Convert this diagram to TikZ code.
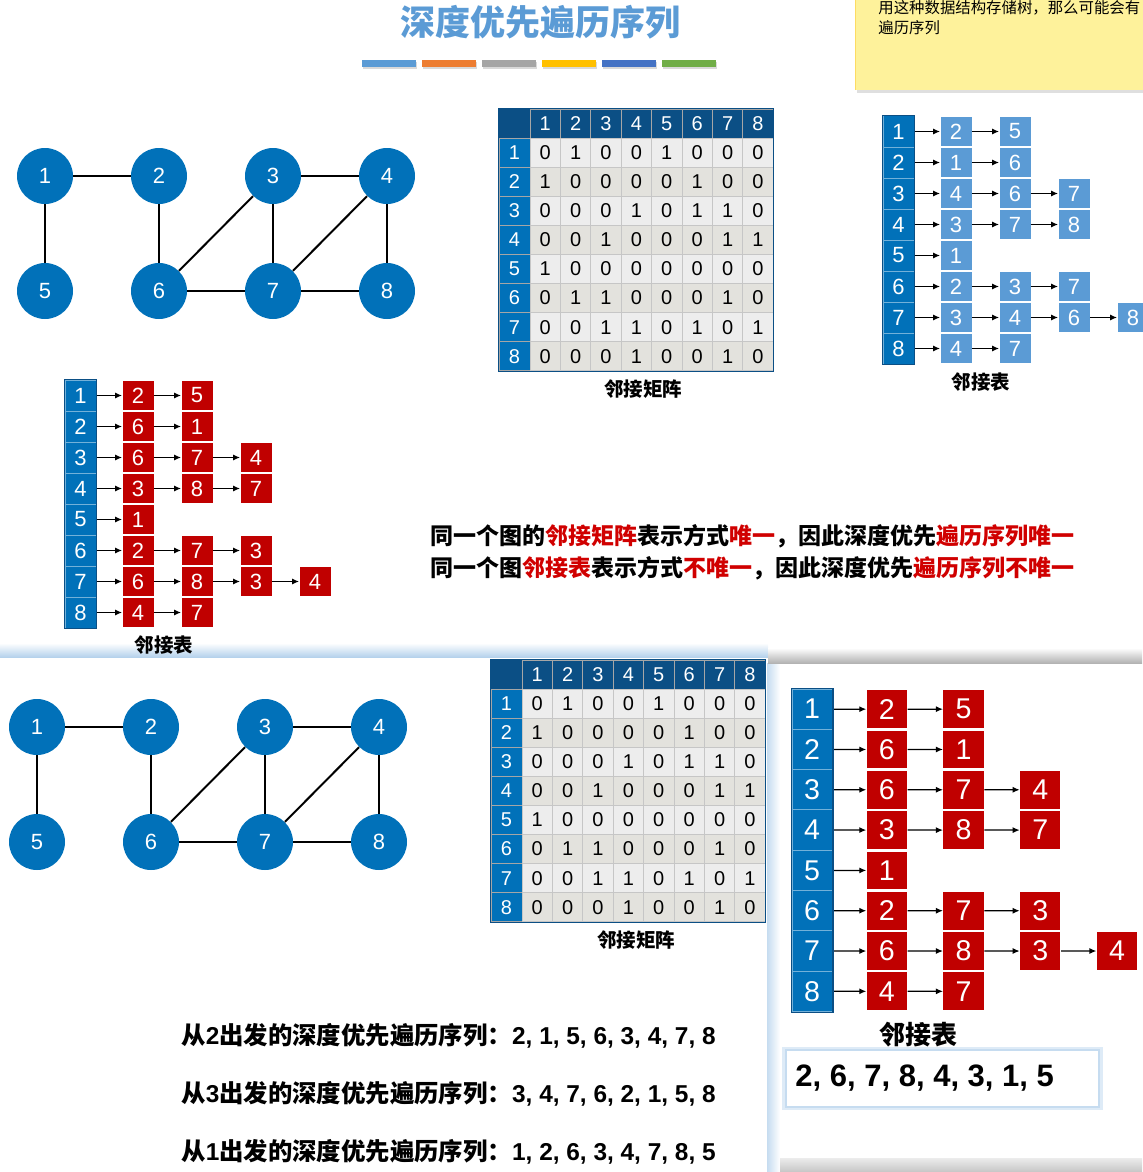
\documentclass[tikz,border=0pt]{standalone}
\usepackage{fontspec}
\setmainfont{Liberation Sans}
\newfontfamily\cjk{Noto Sans CJK SC}
\usetikzlibrary{arrows.meta}

\definecolor{vblue}{HTML}{0171B9}
\definecolor{hblue}{HTML}{0B4F85}
\definecolor{lblue}{HTML}{5B9BD5}
\definecolor{boxred}{HTML}{C00000}
\definecolor{txtred}{HTML}{D00000}
\definecolor{cellA}{HTML}{EDEDED}
\definecolor{cellB}{HTML}{E3E2DD}
\definecolor{notey}{HTML}{FEF29B}
\definecolor{barA}{HTML}{5B9BD5}
\definecolor{barB}{HTML}{ED7D31}
\definecolor{barC}{HTML}{A5A5A5}
\definecolor{barD}{HTML}{FFC000}
\definecolor{barE}{HTML}{4472C4}
\definecolor{barF}{HTML}{70AD47}

\newcommand\hlred[1]{\textcolor{txtred}{#1}}
\newcommand\fs[1]{\fontsize{#1}{#1}\selectfont}
\newcommand\zh[1]{{\cjk #1}}

% adjacency matrix, #1 = name prefix
\newcommand\adjmat[1]{%
  \node[corner] (#1-0-0) at (15.5,14.5) {};
  \foreach \c in {1,...,8}
    \node[colhead] (#1-0-\c) at ({31+(\c-0.5)*30.4},14.5) {\c};
  \foreach \r/\row in {1/{0,1,0,0,1,0,0,0},2/{1,0,0,0,0,1,0,0},3/{0,0,0,1,0,1,1,0},4/{0,0,1,0,0,0,1,1},5/{1,0,0,0,0,0,0,0},6/{0,1,1,0,0,0,1,0},7/{0,0,1,1,0,1,0,1},8/{0,0,0,1,0,0,1,0}} {
    \ifodd\r\relax \def\cellcol{cellA}\else \def\cellcol{cellB}\fi
    \node[rowhead] (#1-\r-0) at (15.5,{29+(\r-0.5)*29.1}) {\r};
    \foreach \v [count=\c] in \row
      \node[cell,fill=\cellcol] (#1-\r-\c) at ({31+(\c-0.5)*30.4},{29+(\r-0.5)*29.1}) {\v};
  }
  \draw[hblue,line width=0.6pt] (#1-0-0.north west) rectangle (#1-8-8.south east);
}

% adjacency list, #1 = name prefix, #2 = box style, #3 = rows
\newcommand\adjlist[3]{%
  \foreach \r/\items in {#3} {
    \node[listhead] (#1-\r-0) at (15.5,{(\r-0.5)*31}) {\r};
    \foreach \v [count=\k] in \items {
      \pgfmathtruncatemacro\pk{\k-1}
      \node[#2] (#1-\r-\k) at ({73+(\k-1)*59},{(\r-0.5)*31}) {\v};
      \draw[link] (#1-\r-\pk) -- (#1-\r-\k);
    }
  }
  \draw[hblue,line width=0.6pt] (#1-1-0.north west) rectangle (#1-8-0.south east);
}

\begin{document}
\begin{tikzpicture}[x=0.5pt,y=-0.5pt,
  vertex/.style={circle,fill=vblue,text=white,minimum size=28pt,inner sep=0pt,font=\fs{11}},
  edge/.style={line width=1pt},
  corner/.style={rectangle,fill=hblue,minimum width=15.5pt,minimum height=14.5pt,inner sep=0pt},
  colhead/.style={rectangle,fill=hblue,draw=gray!70,line width=0.4pt,text=white,minimum width=15.2pt,minimum height=14.5pt,inner sep=0pt,font=\fs{10}},
  rowhead/.style={rectangle,fill=vblue,draw=gray!70,line width=0.4pt,text=white,minimum width=15.5pt,minimum height=14.55pt,inner sep=0pt,font=\fs{10}},
  cell/.style={rectangle,draw=gray!45,line width=0.4pt,minimum width=15.2pt,minimum height=14.55pt,inner sep=0pt,font=\fs{10}},
  listhead/.style={rectangle,fill=vblue,draw=vblue!55!white,line width=0.5pt,text=white,minimum width=15.5pt,minimum height=15.5pt,inner sep=0pt,font=\fs{11}},
  redbox/.style={rectangle,fill=boxred,text=white,minimum width=15.5pt,minimum height=14.5pt,inner sep=0pt,font=\fs{11}},
  bluebox/.style={rectangle,fill=lblue,text=white,minimum width=15.5pt,minimum height=14.5pt,inner sep=0pt,font=\fs{11}},
  link/.style={-{Latex[length=3.5pt,width=3pt]},line width=0.6pt},
  caption/.style={font=\cjk\bfseries\fs{9.75}},
  line/.style={anchor=west,inner sep=0pt}]
\useasboundingbox (0,0) rectangle (1142,1172);

% panels of the lower half
\shade[top color=white,bottom color=lblue!45] (0,643) rectangle (768,657);
\shade[left color=lblue!35,right color=white] (767,663) rectangle (780,1172);
\shade[top color=white,bottom color=gray!60] (768,648) rectangle (1142,663);
\shade[top color=gray!15,bottom color=gray!45] (780,1158) rectangle (1142,1172);

% title and colour bars
\node[font=\cjk\bfseries\fs{17.5},text=lblue] (title) at (540,22) {深度优先遍历序列};
\foreach \col [count=\i] in {barA,barB,barC,barD,barE,barF} {
  \fill[gray!30] ({362+(\i-1)*60+1},62) rectangle ({362+(\i-1)*60+55},69);
  \fill[\col] ({362+(\i-1)*60},60) rectangle ({362+(\i-1)*60+54},67);
}

% note
\fill[gray!25] (857,88) rectangle (1150,93);
\fill[notey] (855,-5) rectangle (1150,90);
\draw[yellow!60!orange!60,line width=0.4pt] (855,-5) -- (855,90);
\node[line,font=\cjk\fs{7.7}] (note1) at (878,8) {用这种数据结构存储树，那么可能会有};
\node[line,font=\cjk\fs{7.7}] (note2) at (878,28) {遍历序列};

% upper graph
\foreach \n/\x/\y in {1/45/176,2/159/176,3/273/176,4/387/176,5/45/291,6/159/291,7/273/291,8/387/291}
  \node[vertex] (t\n) at (\x,\y) {\n};
\foreach \a/\b in {1/2,1/5,2/6,3/4,3/6,3/7,4/7,4/8,6/7,7/8}
  \draw[edge] (t\a) -- (t\b);

% upper matrix
\begin{scope}[shift={(499,109)}]
  \adjmat{ma}
\end{scope}
\node[caption] (capma) at (643,389) {邻接矩阵};

% upper list, blue
\begin{scope}[shift={(883,116)}]
  \adjlist{la}{bluebox}{1/{2,5},2/{1,6},3/{4,6,7},4/{3,7,8},5/{1},6/{2,3,7},7/{3,4,6,8},8/{4,7}}
\end{scope}
\node[caption] (capla) at (981,382) {邻接表};

% middle list, red
\begin{scope}[shift={(65,380)}]
  \adjlist{lb}{redbox}{1/{2,5},2/{6,1},3/{6,7,4},4/{3,8,7},5/{1},6/{2,7,3},7/{6,8,3,4},8/{4,7}}
\end{scope}
\node[caption] (caplb) at (164,645) {邻接表};

% remarks
\node[line,font=\cjk\bfseries\fs{11.5}] (rule1) at (430,536)
  {同一个图的\hlred{邻接矩阵}表示方式\hlred{唯一}，因此深度优先\hlred{遍历序列唯一}};
\node[line,font=\cjk\bfseries\fs{11.5}] (rule2) at (430,568)
  {同一个图\hlred{邻接表}表示方式\hlred{不唯一}，因此深度优先\hlred{遍历序列不唯一}};

% lower graph
\foreach \n/\x/\y in {1/37/727,2/151/727,3/265/727,4/379/727,5/37/842,6/151/842,7/265/842,8/379/842}
  \node[vertex] (b\n) at (\x,\y) {\n};
\foreach \a/\b in {1/2,1/5,2/6,3/4,3/6,3/7,4/7,4/8,6/7,7/8}
  \draw[edge] (b\a) -- (b\b);

% lower matrix
\begin{scope}[shift={(491,660)}]
  \adjmat{mb}
\end{scope}
\node[caption] (capmb) at (636,940) {邻接矩阵};

% lower list, red, larger
\begin{scope}[shift={(792,689)},scale=1.3,every node/.append style={transform shape}]
  \adjlist{lc}{redbox}{1/{2,5},2/{6,1},3/{6,7,4},4/{3,8,7},5/{1},6/{2,7,3},7/{6,8,3,4},8/{4,7}}
\end{scope}
\node[font=\cjk\bfseries\fs{13}] (caplc) at (918,1035) {邻接表};

% result box
\fill[lblue!20] (782,1047) rectangle (1103,1110);
\fill[lblue!35] (785,1049) rectangle (1100,1108);
\fill[white] (787,1051) rectangle (1098,1106);
\node[line,font=\bfseries\fs{15.5}] (result) at (795,1078) {2, 6, 7, 8, 4, 3, 1, 5};

% sequences
\node[line,font=\bfseries\fs{12.2}] (seq2) at (181,1036) {\zh{从}2\zh{出发的深度优先遍历序列：}2, 1, 5, 6, 3, 4, 7, 8};
\node[line,font=\bfseries\fs{12.2}] (seq3) at (181,1094) {\zh{从}3\zh{出发的深度优先遍历序列：}3, 4, 7, 6, 2, 1, 5, 8};
\node[line,font=\bfseries\fs{12.2}] (seq1) at (181,1152) {\zh{从}1\zh{出发的深度优先遍历序列：}1, 2, 6, 3, 4, 7, 8, 5};
\end{tikzpicture}
\end{document}
